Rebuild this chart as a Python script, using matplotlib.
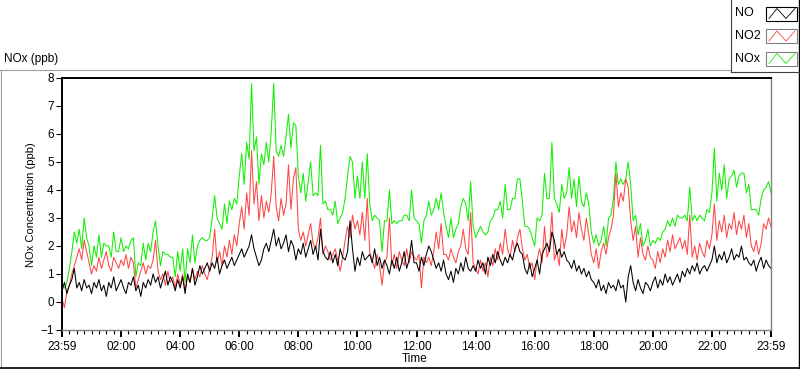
import matplotlib.pyplot as plt
import numpy as np
from matplotlib.lines import Line2D
from matplotlib.patches import Rectangle
from matplotlib.ticker import MultipleLocator

plt.rcParams['font.family'] = ['Liberation Sans', 'DejaVu Sans']

# 5 minute readings starting 23:59, one row per hour (ppb)
no_ppb = [
    0.4, 0.7, 0.3, 0.6, 0.8, 1.2, 0.5, 0.7, 0.4, 0.8, 0.5, 0.6,
    0.3, 0.7, 0.5, 0.8, 0.4, 0.6, 0.2, 0.7, 0.5, 0.9, 0.4, 0.6,
    0.8, 0.5, 0.3, 0.7, 0.6, 0.9, 0.4, 0.6, 0.2, 0.7, 0.5, 0.8,
    0.6, 1.0, 0.7, 0.9, 0.5, 0.8, 1.1, 0.6, 0.9, 0.7, 0.4, 0.8,
    0.5, 0.9, 0.3, 1.0, 0.7, 1.2, 0.6, 0.9, 1.3, 1.0, 1.2, 1.4,
    1.1, 1.4, 1.2, 1.6, 1.0, 1.3, 1.5, 1.2, 1.4, 1.6, 1.3, 1.5,
    1.7, 1.9, 1.6, 1.8, 2.0, 2.4, 1.9, 1.6, 1.3, 1.5, 1.9, 2.1,
    1.8, 2.2, 2.6, 2.0, 2.3, 1.9, 2.1, 2.4, 1.8, 2.2, 2.0, 1.5,
    1.9, 1.7, 2.1, 1.6, 1.9, 2.2, 1.7, 2.0, 1.5, 2.6, 1.8, 1.6,
    1.5, 1.8, 1.4, 1.7, 1.3, 1.9, 1.6, 1.5, 1.8, 2.9, 1.9, 1.1,
    1.6, 1.3, 1.8, 1.5, 1.6, 1.7, 1.4, 1.9, 1.3, 1.6, 1.2, 1.5,
    1.3, 1.0, 1.5, 1.2, 1.6, 1.1, 1.4, 1.8, 1.2, 1.5, 2.2, 1.4,
    1.4, 1.1, 1.6, 1.3, 1.7, 2.0, 1.8, 1.5, 1.2, 1.4, 1.1, 1.5,
    1.0, 0.8, 1.1, 0.7, 1.2, 1.0, 1.4, 1.1, 1.6, 1.2, 1.1, 1.3,
    1.1, 1.5, 1.2, 1.4, 1.0, 1.6, 1.3, 1.7, 1.4, 1.8, 1.5, 1.3,
    1.6, 1.4, 1.7, 1.5, 1.9, 2.1, 1.8, 1.7, 1.2, 1.0, 1.4, 0.9,
    1.2, 1.5, 1.0, 1.7, 1.9, 2.1, 1.8, 2.5, 2.2, 1.7, 1.9, 1.6,
    1.8, 1.5, 1.4, 1.2, 1.5, 1.1, 1.3, 1.0, 1.2, 0.9, 1.1, 0.8,
    0.7, 0.5, 0.8, 0.4, 0.6, 0.3, 0.7, 0.5, 0.6, 0.4, 0.8, 0.5,
    0.6, 0.0, 0.9, 1.3, 0.7, 0.4, 0.8, 0.5, 0.3, 0.7, 0.6, 0.4,
    0.7, 0.9, 0.5, 0.8, 0.6, 1.0, 0.7, 0.9, 0.6, 0.8, 1.0, 0.7,
    1.1, 0.9, 1.2, 1.0, 1.3, 1.1, 1.4, 1.0, 1.2, 1.3, 1.1, 1.3,
    1.5, 2.0, 1.4, 1.7, 1.5, 1.8, 1.4, 1.6, 1.9, 1.5, 1.7, 1.6,
    2.0, 1.5, 1.6, 1.4, 1.3, 1.5, 1.1, 1.4, 1.6, 1.2, 1.5, 1.3,
    1.2,
]

no2_ppb = [
    0.1, -0.2, 0.4, 0.6, 1.0, 1.3, 1.6, 1.9, 1.5, 2.2, 1.8, 1.4,
    1.0, 1.3, 1.1, 1.6, 1.2, 1.5, 1.8, 1.3, 1.1, 1.6, 1.4, 1.2,
    1.5, 1.3, 1.7, 1.2, 1.6, 1.4, 0.5, 0.8, 1.1, 1.4, 1.0, 1.3,
    1.2, 1.5, 2.2, 1.1, 0.8, 1.0, 0.6, 1.1, 0.7, 0.9, 0.5, 1.0,
    0.6, 1.0, 0.4, 0.9, 0.7, 1.2, 0.8, 1.1, 0.9, 1.3, 1.0, 0.8,
    1.2, 1.6, 2.6, 1.4, 1.8, 1.3, 2.0, 1.6, 2.2, 1.7, 2.4, 2.0,
    2.8, 3.4, 2.6, 3.9, 3.1, 5.4, 3.5, 4.3, 2.9, 3.8, 3.0, 3.6,
    3.2, 3.9, 5.2, 3.4, 2.9, 3.7, 3.1, 3.5, 4.9, 3.3, 4.4, 4.8,
    2.6, 2.2, 2.5, 2.0, 2.4, 2.8, 2.1, 1.9, 2.3, 3.0, 1.7, 2.0,
    1.8, 1.5, 1.7, 1.9, 1.5, 1.1, 1.6, 2.2, 2.7, 2.3, 3.1, 2.6,
    2.9, 2.4, 3.2, 2.2, 3.7, 1.8, 1.5, 1.2, 1.7, 1.3, 0.6, 1.4,
    1.6, 3.0, 1.3, 1.7, 1.2, 1.8, 1.5, 1.3, 1.9, 1.4, 1.8, 1.6,
    1.5, 1.7, 0.5, 1.6, 1.4, 1.6, 1.3, 1.8, 2.5, 1.9, 2.8, 1.7,
    1.7, 1.5, 1.9, 1.6, 1.4, 1.8, 2.0, 2.6, 1.9, 1.7, 3.2, 1.4,
    1.2, 1.0, 1.5, 1.1, 1.4, 0.9, 1.6, 1.3, 1.9, 1.5, 2.1, 1.7,
    2.6, 1.9, 1.6, 2.2, 1.8, 2.3, 2.6, 1.9, 1.5, 1.7, 1.2, 1.4,
    0.8, 1.5, 1.9, 1.4, 2.7, 1.6, 1.9, 3.2, 1.5, 1.8, 1.3, 2.6,
    1.9, 2.4, 3.4, 2.5, 2.9, 2.3, 3.2, 2.6, 2.2, 3.0, 2.4, 1.7,
    1.4, 1.9, 1.2, 1.8, 2.1, 1.7, 2.3, 2.6, 3.1, 4.6, 3.4, 3.9,
    3.6, 4.4, 4.1, 2.9, 2.2, 2.7, 1.6, 2.3, 1.7, 1.5, 2.0, 1.6,
    1.5, 1.2, 1.8, 1.4, 1.9, 1.6, 2.2, 1.8, 2.4, 1.9, 2.1, 2.3,
    1.9, 2.2, 1.7, 3.1, 1.6, 2.0, 1.5, 2.1, 1.8, 1.6, 2.2, 1.9,
    2.4, 3.5, 2.2, 2.9, 2.5, 3.1, 2.3, 2.8, 2.6, 3.2, 2.4, 2.9,
    2.6, 3.1, 2.3, 2.8, 2.0, 1.8, 2.2, 1.7, 2.1, 2.8, 2.6, 3.0,
    2.7,
]

tick_labels = ['23:59', '02:00', '04:00', '06:00', '08:00', '10:00', '12:00',
               '14:00', '16:00', '18:00', '20:00', '22:00', '23:59']
series_names = ['NO', 'NO2', 'NOx']
series_colors = ['black', '#ff4646', '#10f000']

no = np.array(no_ppb)
no2 = np.array(no2_ppb)
nox = no + no2
hours = np.arange(len(no)) / 12.0

W, H = 800, 369
fig = plt.figure(figsize=(W / 100, H / 100), dpi=100)


def fx(px):
    return px / W


def fy(py):
    return 1 - py / H


ax = fig.add_axes([fx(62), fy(330), fx(771) - fx(62), fy(78) - fy(330)])
ax.plot(hours, nox, color=series_colors[2], lw=0.75)
ax.plot(hours, no2, color=series_colors[1], lw=0.75)
ax.plot(hours, no, color=series_colors[0], lw=0.75)

ax.set_xlim(0, 24)
ax.set_ylim(-1, 8)
ax.set_yticks(range(-1, 9))
ax.set_xticks(np.arange(0, 25, 2))
ax.set_xticklabels(tick_labels)
ax.xaxis.set_minor_locator(MultipleLocator(0.25))
ax.tick_params(axis='y', direction='out', length=4, width=0.8, pad=2, labelsize=8.5)
ax.tick_params(axis='x', which='major', direction='out', length=5, width=1.4, pad=3, labelsize=8.5)
ax.tick_params(axis='x', which='minor', direction='out', length=3, width=0.8)

for side in ['left', 'top']:
    ax.spines[side].set_color('black')
    ax.spines[side].set_linewidth(1.4)
for side in ['right', 'bottom']:
    ax.spines[side].set_color('#808080')
    ax.spines[side].set_linewidth(1.0)

fig.text(fx(31), fy(205), 'NOx Concentration (ppb)', rotation=90,
         ha='center', va='center', fontsize=8)
fig.text(fx(415), fy(359), 'Time', ha='center', va='center', fontsize=8.5)
fig.text(fx(4), fy(59), 'NOx (ppb)', ha='left', va='center', fontsize=8.5)

# panel frame
fig.add_artist(Line2D([fx(0), fx(730)], [fy(69.5), fy(69.5)], color='#a0a0a0', lw=0.8))
fig.add_artist(Line2D([fx(0.5), fx(0.5)], [fy(69.5), fy(367)], color='#a0a0a0', lw=0.8))
fig.add_artist(Line2D([fx(0), fx(800)], [fy(367.5), fy(367.5)], color='black', lw=1.2))
fig.add_artist(Line2D([fx(799.2), fx(799.2)], [fy(0), fy(368)], color='black', lw=1.0))

# legend box
fig.add_artist(Line2D([fx(730.5), fx(730.5)], [fy(0), fy(72)], color='#404040', lw=0.8))
fig.add_artist(Line2D([fx(730.5), fx(799)], [fy(72), fy(72)], color='#404040', lw=0.8))

for i, (name, color) in enumerate(zip(series_names, series_colors)):
    yc = 13.5 + i * 22.5
    fig.text(fx(735), fy(yc), name, ha='left', va='center', fontsize=9)
    edge = 'black' if i == 0 else '#808080'
    fig.add_artist(Rectangle((fx(766), fy(yc + 7)), fx(31), fy(yc - 7) - fy(yc + 7),
                             transform=fig.transFigure, facecolor='white',
                             edgecolor=edge, lw=0.8))
    fig.add_artist(Line2D([fx(769), fx(777), fx(786), fx(795)],
                          [fy(yc + 5), fy(yc - 5), fy(yc + 5), fy(yc - 5)],
                          color=color, lw=0.6))

fig.savefig('out.png', dpi=100)
